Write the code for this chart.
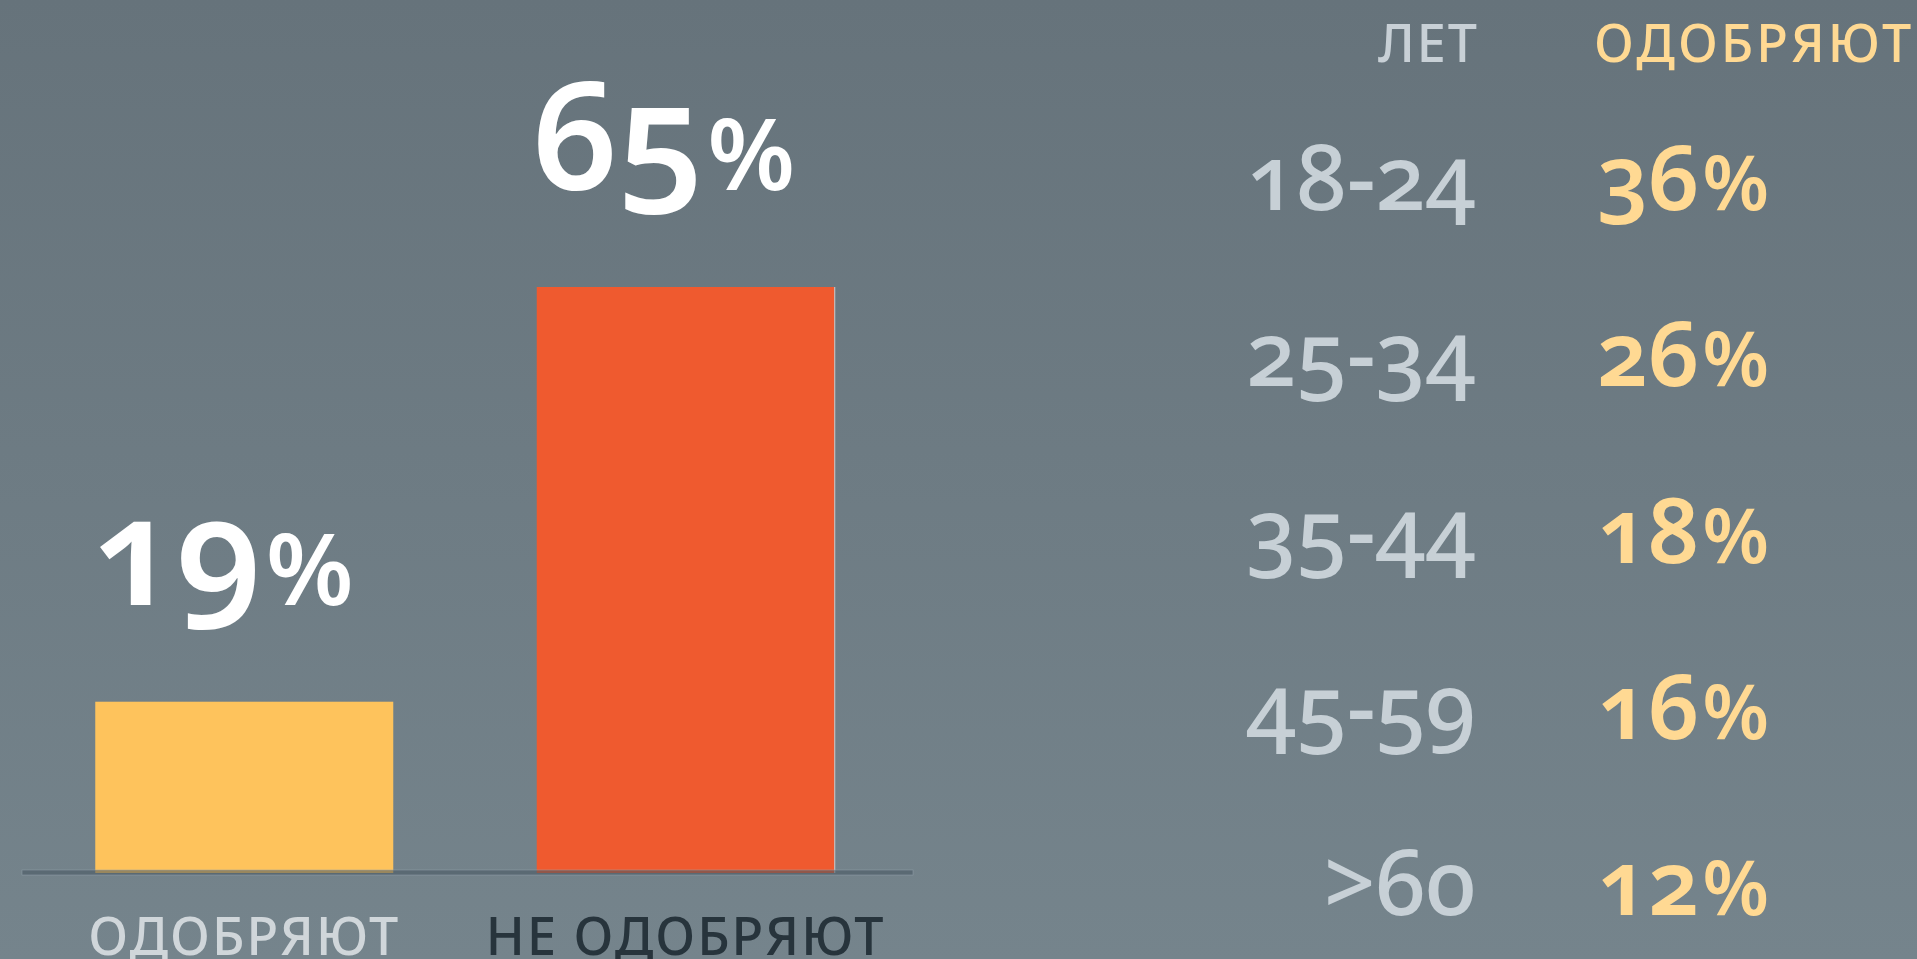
<!DOCTYPE html>
<html>
<head>
<meta charset="utf-8">
<script src="https://cdn.jsdelivr.net/npm/d3@7"></script>
<style>
  body { margin: 0; overflow: hidden; }
  svg { display: block; }
  text { font-family: 'Noto Sans', sans-serif; font-variant-numeric: oldstyle-nums; font-feature-settings: 'onum' 1; }
</style>
</head>
<body>
<div id="chart"></div>
<script>
// Overall approval
const categories = ['ОДОБРЯЮТ', 'НЕ ОДОБРЯЮТ']
const shares = [19, 65]
const barColors = ['#fec35c', '#ef5a2f']
const labelColors = ['#d0d6da', '#27343c']

// Approval by age
const ageGroups = ['18-24', '25-34', '35-44', '45-59', '>60']
const approveByAge = [36, 26, 18, 16, 12]
const ageHeader = 'ЛЕТ'
const approveHeader = 'ОДОБРЯЮТ'

const width = 1917,
  height = 959,
  baseline = 873

const svg = d3
  .select('#chart')
  .append('svg')
  .attr('width', width)
  .attr('height', height)

// background gradient
const grad = svg
  .append('defs')
  .append('linearGradient')
  .attr('id', 'bg')
  .attr('x1', 0)
  .attr('y1', 0)
  .attr('x2', 0)
  .attr('y2', 1)
grad.append('stop').attr('offset', 0).attr('stop-color', '#66737b')
grad.append('stop').attr('offset', 1).attr('stop-color', '#75848c')

svg
  .append('rect')
  .attr('width', width)
  .attr('height', height)
  .attr('fill', 'url(#bg)')

const xScale = d3
  .scaleBand()
  .domain(categories)
  .range([18, 912])
  .paddingInner(0.325)
  .paddingOuter(0.175)

const yScale = d3
  .scaleLinear()
  .domain([0, 65])
  .range([baseline, 287])

const bars = categories.map((c, i) => ({ label: c, value: shares[i], i }))

svg
  .selectAll('.bar')
  .data(bars)
  .enter()
  .append('rect')
  .attr('class', 'bar')
  .attr('x', d => xScale(d.label))
  .attr('y', d => yScale(d.value))
  .attr('width', xScale.bandwidth())
  .attr('height', d => baseline - yScale(d.value))
  .attr('fill', d => barColors[d.i])

// thin light edge on the right of the second bar
svg
  .append('line')
  .attr('x1', xScale(categories[1]) + xScale.bandwidth())
  .attr('x2', xScale(categories[1]) + xScale.bandwidth())
  .attr('y1', yScale(shares[1]))
  .attr('y2', baseline)
  .attr('stroke', '#c9cfd2')
  .attr('stroke-width', 1)

// axis line
svg
  .append('rect')
  .attr('x', 22)
  .attr('y', baseline - 3)
  .attr('width', 891)
  .attr('height', 5)
  .attr('fill', 'rgba(70,86,96,0.55)')
  .attr('stroke', 'rgba(150,165,175,0.6)')
  .attr('stroke-width', 0.8)

// big value labels
const valueLabels = svg
  .selectAll('.value')
  .data(bars)
  .enter()
  .append('text')
  .attr('class', 'value')
  .attr('x', d => xScale(d.label) - 4)
  .attr('y', d => yScale(d.value) - 97)
  .attr('fill', '#fff')
  .attr('font-weight', 600)
  .attr('font-size', 150)

valueLabels.append('tspan').text(d => d.value)
valueLabels
  .append('tspan')
  .attr('font-size', 100)
  .attr('dx', 4)
  .text('%')

// category labels
svg
  .selectAll('.cat')
  .data(bars)
  .enter()
  .append('text')
  .attr('class', 'cat')
  .attr('x', d => xScale(d.label) + xScale.bandwidth() / 2)
  .attr('y', 955)
  .attr('text-anchor', 'middle')
  .attr('font-size', 52)
  .attr('font-weight', 500)
  .attr('letter-spacing', 2)
  .attr('fill', d => labelColors[d.i])
  .text(d => d.label)

// age table
const rowScale = d3
  .scalePoint()
  .domain(ageGroups)
  .range([210, 915])

svg
  .append('text')
  .attr('x', 1479)
  .attr('y', 62)
  .attr('text-anchor', 'end')
  .attr('font-size', 52)
  .attr('font-weight', 500)
  .attr('letter-spacing', 2)
  .attr('fill', '#c8d0d6')
  .text(ageHeader)

svg
  .append('text')
  .attr('x', 1594)
  .attr('y', 62)
  .attr('font-size', 52)
  .attr('font-weight', 500)
  .attr('letter-spacing', 3)
  .attr('fill', '#ffd993')
  .text(approveHeader)

const rows = ageGroups.map((g, i) => ({ group: g, value: approveByAge[i] }))

svg
  .selectAll('.age')
  .data(rows)
  .enter()
  .append('text')
  .attr('class', 'age')
  .attr('x', 1476)
  .attr('y', d => rowScale(d.group))
  .attr('text-anchor', 'end')
  .attr('font-size', 90)
  .attr('font-weight', 500)
  .attr('fill', '#c7d0d6')
  .text(d => d.group)

const ageValues = svg
  .selectAll('.agevalue')
  .data(rows)
  .enter()
  .append('text')
  .attr('class', 'agevalue')
  .attr('x', 1597)
  .attr('y', d => rowScale(d.group))
  .attr('font-size', 90)
  .attr('font-weight', 600)
  .attr('fill', '#ffd993')

ageValues.append('tspan').text(d => d.value)
ageValues
  .append('tspan')
  .attr('font-size', 76)
  .attr('dx', 3)
  .text('%')
</script>
</body>
</html>
